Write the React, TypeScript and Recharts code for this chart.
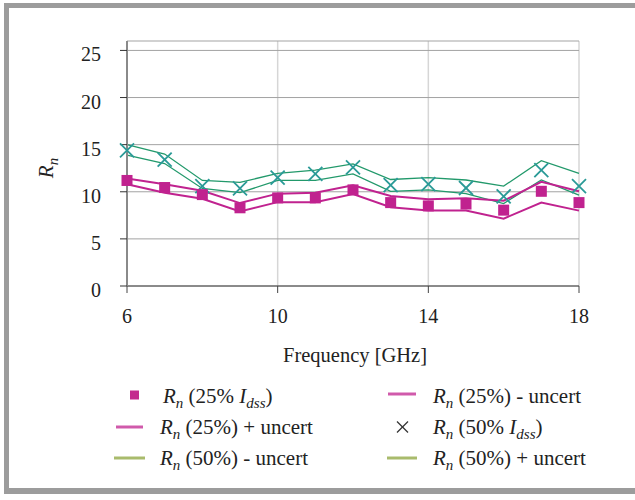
import React from "react";
import { CartesianGrid, ComposedChart, Line, XAxis, YAxis } from "recharts";

const FONT = "'Liberation Serif'";
const TEXT = "#222";

// Frequency points, GHz
const freqs = [6, 7, 8, 9, 10, 11, 12, 13, 14, 15, 16, 17, 18];
// Rn at 25% Idss with uncertainty band
const rn25 = [11.2, 10.45, 9.7, 8.3, 9.35, 9.35, 10.2, 8.85, 8.5, 8.7, 8.05, 10.05, 8.85];
const rn25Up = [11.4, 10.8, 10.1, 8.8, 9.8, 9.9, 10.7, 9.55, 9.2, 9.3, 9.05, 11.05, 10.05];
const rn25Lo = [10.8, 9.9, 9.25, 7.9, 8.9, 8.9, 9.75, 8.35, 8.0, 8.0, 7.15, 8.85, 8.0];
// Rn at 50% Idss with uncertainty band
const rn50 = [14.4, 13.4, 10.6, 10.35, 11.5, 11.9, 12.6, 10.7, 10.8, 10.4, 9.5, 12.3, 10.6];
const rn50Up = [15.0, 14.0, 11.2, 11.0, 11.95, 12.3, 12.95, 11.3, 11.5, 11.25, 10.6, 13.3, 11.95];
const rn50Lo = [13.9, 13.0, 10.35, 9.9, 11.2, 11.2, 11.9, 10.05, 10.2, 9.8, 8.75, 11.25, 9.65];

const xTicks = [6, 10, 14, 18];
const yTicks = [0, 5, 10, 15, 20, 25];

const data = freqs.map((f, i) => ({
  f,
  rn25: rn25[i],
  rn25Up: rn25Up[i],
  rn25Lo: rn25Lo[i],
  rn50: rn50[i],
  rn50Up: rn50Up[i],
  rn50Lo: rn50Lo[i],
}));

const PINK = "#c0228f";
const GREEN = "#22996b";
const TEAL = "#2a9a97";
const LEG_PINK = "#d05aab";
const LEG_OLIVE = "#a9bb6c";

function SquareDot(props: any) {
  const { cx, cy, index } = props;
  if (cx == null || cy == null) return null;
  return <rect key={`sq-${index}`} x={cx - 5.5} y={cy - 5.5} width={11} height={11} fill={PINK} />;
}

function CrossDot(props: any) {
  const { cx, cy, index } = props;
  if (cx == null || cy == null) return null;
  const r = 7;
  return (
    <g key={`x-${index}`} stroke={TEAL} strokeWidth={1.8}>
      <line x1={cx - r} y1={cy - r} x2={cx + r} y2={cy + r} />
      <line x1={cx - r} y1={cy + r} x2={cx + r} y2={cy - r} />
    </g>
  );
}

function YTick(props: any) {
  const { x, y, payload } = props;
  return (
    <text x={x} y={y} dy={11} textAnchor="end" fill={TEXT} style={{ fontFamily: FONT, fontSize: 20 }}>
      {payload.value}
    </text>
  );
}

function XTick(props: any) {
  const { x, y, payload } = props;
  return (
    <text x={x} y={y} dy={30} textAnchor="middle" fill={TEXT} style={{ fontFamily: FONT, fontSize: 20 }}>
      {payload.value}
    </text>
  );
}

// "R" italic with subscript n, then the rest
function RnLabel({ x, y, rest, idss }: { x: number; y: number; rest: string; idss?: boolean }) {
  return (
    <text x={x} y={y} fill={TEXT} style={{ fontFamily: FONT, fontSize: 21 }}>
      <tspan fontStyle="italic">R</tspan>
      <tspan fontStyle="italic" fontSize={15} dy={5}>n</tspan>
      <tspan dy={-5}>{" " + rest}</tspan>
      {idss && (
        <>
          <tspan fontStyle="italic">{" I"}</tspan>
          <tspan fontStyle="italic" fontSize={15} dy={5}>dss</tspan>
          <tspan dy={-5}>)</tspan>
        </>
      )}
    </text>
  );
}

function LegendBlock() {
  return (
    <svg width={635} height={500} style={{ position: "absolute", left: 0, top: 0, pointerEvents: "none" }}>
      <rect x={130} y={390.5} width={9} height={9} fill="#c42a8e" />
      <RnLabel x={163} y={403} rest="(25%" idss />
      <line x1={116} y1={427} x2={143} y2={427} stroke={LEG_PINK} strokeWidth={3} />
      <RnLabel x={160} y={434} rest="(25%) + uncert" />
      <line x1={114} y1={458} x2={145} y2={458} stroke={LEG_OLIVE} strokeWidth={3} />
      <RnLabel x={160} y={465} rest="(50%) - uncert" />

      <line x1={388} y1={394} x2={416} y2={394} stroke={LEG_PINK} strokeWidth={3} />
      <RnLabel x={433} y={403} rest="(25%) - uncert" />
      <g stroke="#333" strokeWidth={1.2}>
        <line x1={397} y1={421.5} x2={408} y2={432.5} />
        <line x1={397} y1={432.5} x2={408} y2={421.5} />
      </g>
      <RnLabel x={433} y={434} rest="(50%" idss />
      <line x1={387} y1={458} x2={417} y2={458} stroke={LEG_OLIVE} strokeWidth={3} />
      <RnLabel x={433} y={465} rest="(50%) + uncert" />
    </svg>
  );
}

export default function App() {
  return (
    <div style={{ position: "absolute", left: 0, top: 0, width: 635, height: 500, overflow: "hidden", background: "#fff" }}>
      <div
        style={{
          position: "absolute",
          left: 4,
          top: 3,
          width: 700,
          height: 491,
          borderTop: "5px solid #9c9c9c",
          borderLeft: "5px solid #9c9c9c",
          borderBottom: "6px solid #9c9c9c",
          boxSizing: "border-box",
        }}
      />
      <div style={{ position: "absolute", left: 0, top: 0 }}>
        <ComposedChart width={635} height={500} data={data} margin={{ top: 41, right: 56, bottom: 154, left: 0 }}>
          <CartesianGrid horizontal={false} vertical stroke="#d6d6d6" strokeWidth={1.5} />
          <CartesianGrid horizontal vertical={false} stroke="#a3a3a3" strokeWidth={1} />
          <XAxis
            type="number"
            dataKey="f"
            domain={[6, 18]}
            ticks={xTicks}
            height={60}
            tickSize={7}
            tickMargin={0}
            axisLine={{ stroke: "#444", strokeWidth: 1 }}
            tickLine={{ stroke: "#444" }}
            tick={<XTick />}
            label={{
              content: (p: any) => {
                const vb = p.viewBox;
                return (
                  <text x={vb.x + vb.width / 2 + 2} y={362} textAnchor="middle" fill={TEXT} style={{ fontFamily: FONT, fontSize: 20.5 }}>
                    Frequency [GHz]
                  </text>
                );
              },
            }}
          />
          <YAxis
            type="number"
            domain={[0, 26]}
            ticks={yTicks}
            width={127}
            tickSize={7}
            tickMargin={19}
            axisLine={{ stroke: "#8a8a8a", strokeWidth: 2 }}
            tickLine={{ stroke: "#333" }}
            tick={<YTick />}
            label={{
              content: () => (
                <text transform="rotate(-90 53 168)" x={53} y={168} textAnchor="middle" fill={TEXT} style={{ fontFamily: FONT, fontSize: 21 }}>
                  <tspan fontStyle="italic">R</tspan>
                  <tspan fontStyle="italic" fontSize={15} dy={5}>n</tspan>
                </text>
              ),
            }}
          />
          <Line dataKey="rn50Up" stroke={GREEN} strokeWidth={1.3} dot={false} activeDot={false} isAnimationActive={false} />
          <Line dataKey="rn50Lo" stroke={GREEN} strokeWidth={1.3} dot={false} activeDot={false} isAnimationActive={false} />
          <Line dataKey="rn50" stroke="none" dot={CrossDot} activeDot={false} isAnimationActive={false} />
          <Line dataKey="rn25Up" stroke={PINK} strokeWidth={2} dot={false} activeDot={false} isAnimationActive={false} />
          <Line dataKey="rn25Lo" stroke={PINK} strokeWidth={2} dot={false} activeDot={false} isAnimationActive={false} />
          <Line dataKey="rn25" stroke="none" dot={SquareDot} activeDot={false} isAnimationActive={false} />
        </ComposedChart>
      </div>
      <LegendBlock />
    </div>
  );
}
